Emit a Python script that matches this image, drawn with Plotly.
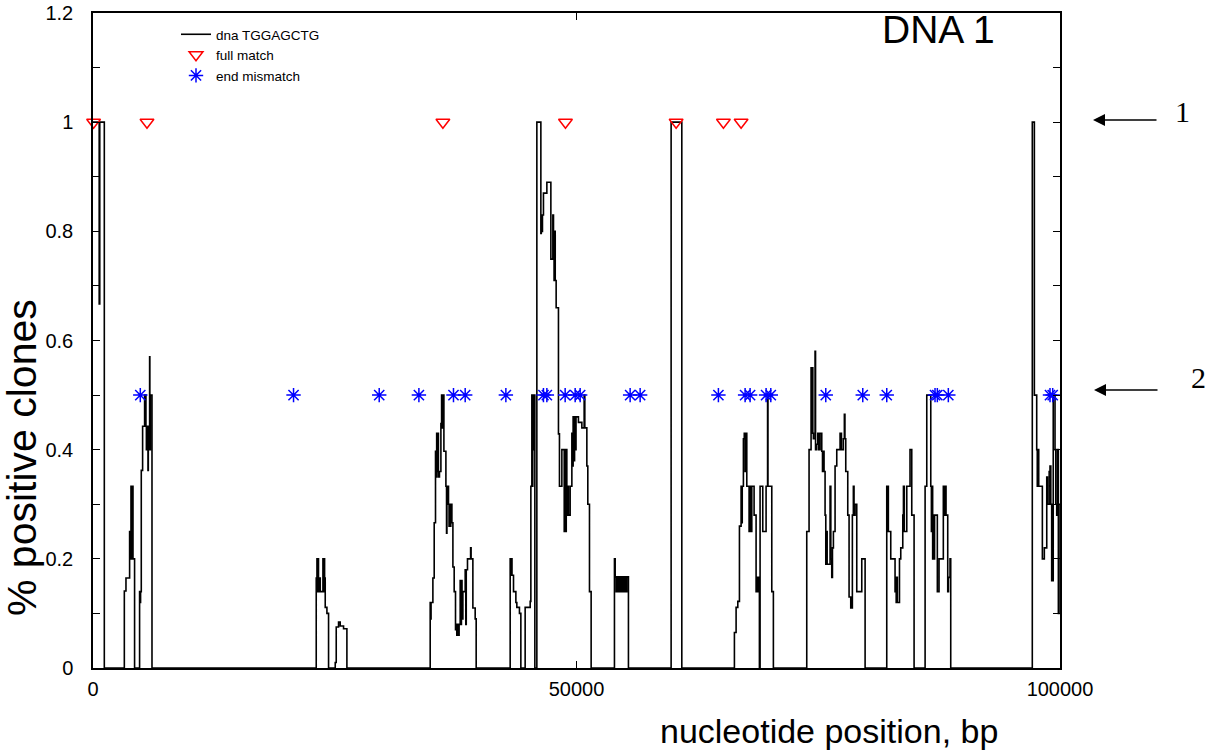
import plotly.graph_objects as go

# Sliding-window fraction of positive clones along DNA 1 (step profile, bp -> fraction)
window_pos = [
    0, 640, 700, 1170,
    3240, 3410, 3786, 3850, 3900, 3928, 4000, 4040, 4135, 4300,
    4818, 4870, 4920, 4993, 5130, 5337, 5475, 5520, 5560, 5600, 5686, 5720, 5760, 5800, 5840, 5855, 5880, 5930, 6100,
    23085, 23160, 23220, 23261, 23320, 23400, 23500, 23600, 23778, 23850, 23900, 23950, 24015, 24190, 24360,
    25050, 25153, 25393, 25566, 25910, 26256,
    34870, 34920, 34960, 35148, 35284, 35420, 35480, 35540, 35600, 35660, 35720, 35830, 35977, 36050, 36100, 36142,
    36287, 36494, 36560, 36600, 36763, 36820, 36880, 36940, 37000, 37114, 37218, 37351, 37488, 37560, 37620, 37700,
    37780, 37860, 37971, 38030, 38100, 38160, 38250, 38489, 38550, 38600, 38727, 39050, 39100, 39283, 39521, 39625,
    43141, 43200, 43260, 43330, 43486, 43730, 43830, 44100, 44245,
    44690, 45210, 45280, 45383, 45430, 45480, 45530, 45580, 45693,
    45900, 46314, 46360, 46420, 46480, 46583, 46935, 47348, 47555, 47620, 47680, 47740, 47800, 47896, 48134, 48238,
    48486, 48730, 48800, 48870, 48940, 49000, 49060, 49168, 49344, 49520, 49580, 49650, 49720, 49800, 49870, 49950,
    50200, 50553, 50791, 50860, 51070, 51170, 51342, 51514,
    53924, 54000, 54100, 54200, 54300, 54400, 54500, 54600, 54700, 54800, 54900, 55000, 55100, 55200, 55371,
    59785, 60890,
    66330, 66505, 66680, 66850, 67022, 67080, 67140, 67260, 67350, 67435, 67520, 67610, 67848, 67920, 67990, 68127,
    68365, 68572, 68650, 68720, 68800, 68915,
    68985, 69262, 69606, 69760, 69800, 70194, 70360,
    73811, 74050, 74257, 74320, 74380, 74440, 74497, 74670, 74720, 74840, 74950, 75050, 75188, 75364, 75440, 75520,
    75600, 75705, 75780, 75850, 75920, 76049, 76222, 76300, 76397, 76470, 76568, 76739, 76914, 77256, 77400, 77597,
    77700, 77760, 77845, 78052, 78187, 78361, 78528, 78631, 78700, 78807, 78982, 79500, 79845,
    82084, 82250, 82497, 82942, 83000, 83060, 83120, 83180, 83283, 83400, 83533, 83740, 83810, 83900, 84155, 84490,
    84670, 84910,
    86050, 86222, 86636, 86700, 86760, 86830, 86900, 86960, 87030, 87180, 87315, 87490, 87935, 88000, 88060, 88214,
    88390, 88470, 88627, 88700,
    97135, 97350, 97410, 97590, 97650, 97720, 97800, 97935, 98176, 98380, 98630, 98700, 98800, 98880, 98966, 99050,
    99140, 99300, 99485, 99560, 99660, 99740, 99830, 99900, 100000,
]
window_frac = [
    1.0, 0.667, 1.0, 0,
    0.141, 0.165, 0.25, 0.2, 0.25, 0.333, 0.2, 0.333, 0.2, 0,
    0.14, 0.12, 0.14, 0.362, 0.443, 0.5, 0.443, 0.4, 0.443, 0.4, 0.362, 0.443, 0.4, 0.443, 0.4, 0.57, 0.4, 0.5, 0,
    0.165, 0.2, 0.14, 0.2, 0.14, 0.165, 0.14, 0.14, 0.2, 0.14, 0.2, 0.165, 0.111, 0.1, 0,
    0.01, 0.075, 0.084, 0.077, 0.072, 0,
    0.12, 0.09, 0.12, 0.165, 0.266, 0.397, 0.35, 0.43, 0.36, 0.43, 0.35, 0.36, 0.448, 0.5, 0.44, 0.5,
    0.397, 0.333, 0.247, 0.333, 0.3, 0.26, 0.3, 0.26, 0.3, 0.266, 0.185, 0.14, 0.07, 0.08, 0.06, 0.08,
    0.06, 0.08, 0.16, 0.08, 0.16, 0.09, 0.14, 0.18, 0.08, 0.18, 0.2, 0.22, 0.2, 0.11, 0.09, 0,
    0.2, 0.17, 0.2, 0.17, 0.14, 0.12, 0.111, 0.1, 0,
    0.111, 0.122, 0.333, 0.5, 0.333, 0.5, 0.4, 0.5, 0,
    1.0, 0.796, 0.83, 0.8, 0.83, 0.87, 0.89, 0.749, 0.83, 0.8, 0.71, 0.8, 0.71, 0.66, 0.429, 0.333,
    0.4, 0.25, 0.4, 0.25, 0.4, 0.28, 0.333, 0.28, 0.333, 0.43, 0.37, 0.46, 0.38, 0.46, 0.4, 0.46,
    0.45, 0.44, 0.5, 0.44, 0.37, 0.3, 0.14, 0,
    0.2, 0.167, 0.14, 0.167, 0.14, 0.167, 0.14, 0.167, 0.14, 0.167, 0.14, 0.167, 0.14, 0.167, 0,
    1.0, 0,
    0.065, 0.111, 0.122, 0.26, 0.333, 0.266, 0.333, 0.42, 0.43, 0.36, 0.43, 0.333, 0.25, 0.333, 0.25, 0.333,
    0.28, 0.14, 0.166, 0.14, 0.166, 0,
    0.333, 0.25, 0.333, 0.5, 0.333, 0.14, 0,
    0.25, 0.4, 0.55, 0.43, 0.55, 0.43, 0.42, 0.58, 0.4, 0.41, 0.43, 0.4, 0.43, 0.397, 0.36, 0.397,
    0.36, 0.28, 0.19, 0.25, 0.19, 0.19, 0.333, 0.2, 0.166, 0.22, 0.25, 0.37, 0.4, 0.43, 0.4, 0.42,
    0.465, 0.42, 0.36, 0.28, 0.13, 0.11, 0.28, 0.333, 0.28, 0.3, 0.14, 0.2, 0,
    0.333, 0.25, 0.2, 0.14, 0.166, 0.12, 0.166, 0.12, 0.12, 0.2, 0.22, 0.28, 0.333, 0.25, 0.333, 0.4,
    0.28, 0,
    0.333, 0.5, 0.333, 0.25, 0.333, 0.2, 0.28, 0.2, 0.28, 0.28, 0.14, 0.2, 0.333, 0.28, 0.333, 0.28,
    0.14, 0.166, 0.2, 0,
    1.0, 0.5, 0.5, 0.4, 0.333, 0.4, 0.333, 0.333, 0.2, 0.22, 0.35, 0.3, 0.3, 0.36, 0.37, 0.3,
    0.16, 0.5, 0.4, 0.3, 0.28, 0.4, 0.1, 0.3, 0.3,
]

# Probe sites: full matches (plotted at 1) and end mismatches (plotted at 0.5)
full_match_pos = [60, 5583, 36183, 48858, 60302, 65192, 67022]
full_match_level = [1, 1, 1, 1, 1, 1, 1]
end_mismatch_pos = [
    4890, 20738, 29598, 33702, 37279, 38489, 42696, 46583, 46935, 48827, 49861, 50378,
    55547, 56581, 64675, 67435, 67952, 69606, 70092, 75778, 79603, 82084, 87077, 87315,
    88452, 98966, 99245,
]
end_mismatch_level = [0.5] * len(end_mismatch_pos)

x_tick_vals = [0, 50000, 100000]
x_tick_text = ["0", "50000", "100000"]

fig = go.Figure()
fig.add_trace(go.Scatter(
    x=window_pos, y=window_frac, mode="lines", name="dna TGGAGCTG",
    line=dict(color="black", width=1.6, shape="hv"),
))
fig.add_trace(go.Scatter(
    x=full_match_pos, y=full_match_level, mode="markers", name="full match",
    marker=dict(symbol="triangle-down-open", size=12, color="red", line=dict(color="red", width=1.5)),
    cliponaxis=False,
))
fig.add_trace(go.Scatter(
    x=end_mismatch_pos, y=end_mismatch_level, mode="markers", name="end mismatch",
    marker=dict(symbol="asterisk-open", size=12, color="blue", line=dict(color="blue", width=1.5)),
))

W, H = 1210, 753
L, R, T, B = 93, 1060, 13, 668


def px(xp):
    return (xp - L) / (R - L)


def py(yp):
    return (B - yp) / (B - T)


fig.update_layout(
    width=W, height=H,
    margin=dict(l=L, r=W - R, t=T, b=H - B, pad=0, autoexpand=False),
    paper_bgcolor="white", plot_bgcolor="white",
    font=dict(family="Liberation Sans, Arial, sans-serif", color="black"),
    showlegend=True,
    legend=dict(
        x=px(176), y=py(19), xanchor="left", yanchor="top",
        bgcolor="rgba(0,0,0,0)", borderwidth=0,
        font=dict(size=13.5, color="black"), tracegroupgap=0,
    ),
    xaxis=dict(
        range=[0, 100000], showgrid=False, zeroline=False, automargin=False,
        showline=True, linecolor="black", linewidth=1.5, mirror="ticks",
        ticks="inside", ticklen=7, tickcolor="black", tickwidth=1,
        tickvals=x_tick_vals, ticktext=x_tick_text,
        tickfont=dict(size=20), ticklabelstandoff=2,
    ),
    yaxis=dict(
        range=[0, 1.2], showgrid=False, zeroline=False, automargin=False,
        showline=True, linecolor="black", linewidth=1.5, mirror="ticks",
        ticks="inside", ticklen=7, tickcolor="black", tickwidth=1,
        dtick=0.2, tick0=0,
        minor=dict(dtick=0.1, ticks="inside", ticklen=7, tickcolor="black", showgrid=False),
        tickfont=dict(size=20), ticklabelstandoff=14,
    ),
)

annotations = [
    dict(text="% positive clones", x=px(22), y=py(458), xref="paper", yref="paper",
         textangle=-90, showarrow=False, font=dict(size=41), xanchor="center", yanchor="middle"),
    dict(text="nucleotide position, bp", x=px(829), y=py(731), xref="paper", yref="paper",
         showarrow=False, font=dict(size=34), xanchor="center", yanchor="middle"),
    dict(text="DNA 1", x=px(880), y=py(29), xref="paper", yref="paper",
         showarrow=False, font=dict(size=39), xanchor="left", yanchor="middle"),
    dict(text="", x=px(1093), y=py(120), xref="paper", yref="paper",
         showarrow=True, ax=65, ay=0, arrowhead=2, arrowsize=1.6, arrowwidth=1.5,
         arrowcolor="black", standoff=0),
    dict(text="", x=px(1094), y=py(390), xref="paper", yref="paper",
         showarrow=True, ax=65, ay=0, arrowhead=2, arrowsize=1.6, arrowwidth=1.5,
         arrowcolor="black", standoff=0),
    dict(text="1", x=px(1182), y=py(111), xref="paper", yref="paper", showarrow=False,
         font=dict(size=30, family="Liberation Serif, Times New Roman, serif"),
         xanchor="center", yanchor="middle"),
    dict(text="2", x=px(1198), y=py(378), xref="paper", yref="paper", showarrow=False,
         font=dict(size=30, family="Liberation Serif, Times New Roman, serif"),
         xanchor="center", yanchor="middle"),
]
fig.update_layout(annotations=annotations)

fig.write_html("out.html")
